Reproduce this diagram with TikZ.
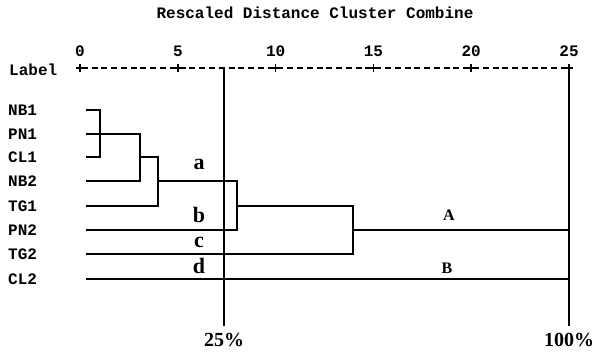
\documentclass[tikz,border=0pt]{standalone}
\usepackage{fontspec}
\setmainfont{Liberation Serif}
\setmonofont{Liberation Mono}
\usetikzlibrary{positioning}

\begin{document}
\begin{tikzpicture}[x=1pt, y=-1pt,
leaf/.style={anchor=west, inner sep=0pt, font=\ttfamily\bfseries\fontsize{16}{16}\selectfont},
scalenum/.style={inner sep=0pt, font=\ttfamily\bfseries\fontsize{16}{16}\selectfont},
grp/.style={inner sep=0pt, font=\bfseries\fontsize{22}{22}\selectfont},
pct/.style={inner sep=0pt, font=\bfseries\fontsize{20}{20}\selectfont},
clus/.style={inner sep=0pt, font=\bfseries\fontsize{16}{16}\selectfont},
link/.style={line width=1.4pt},
cutline/.style={line width=1.8pt}]

\useasboundingbox (0,0) rectangle (596,356);

\node[scalenum] (title) at (315,13) {Rescaled Distance Cluster Combine};

\node[leaf] (lab) at (9,70) {Label};

\coordinate (ax0) at (80,68);

\coordinate (ax25) at (569,68);

\draw[line width=1.5pt, dash pattern=on 6pt off 3.78pt, dash phase=-1.8pt] (ax0) -- (ax25);

\foreach \i in {0,...,5}{
\pgfmathtruncatemacro\val{5*\i}
\node[scalenum] (t\val) at (80+97.8*\i,51) {\val};
\draw[line width=1.5pt] (80+97.8*\i,64) -- (80+97.8*\i,72);
\draw[line width=1.5pt] (76+97.8*\i,68) -- (84+97.8*\i,68);
}

\foreach \name/\txt/\y [count=\k] in {nb1/NB1/110, pn1/PN1/134, cl1/CL1/157, nb2/NB2/181, tg1/TG1/206, pn2/PN2/230, tg2/TG2/254, cl2/CL2/279}{
\node[leaf] (\name) at (8,\y) {\txt};
\coordinate (l\k) at (86,\y);
}

\coordinate (j1) at (100,134);

\coordinate (j2) at (140,157);

\coordinate (j3) at (158,181);

\coordinate (j4) at (237,206);

\coordinate (j5) at (353,230);

\coordinate (r1) at (568,230);

\coordinate (r2) at (568,279);

\draw[link] (l1) -| (j1) |- (l3);

\draw[link] (l2) -| (j2) |- (l4);

\draw[link] (j2) -| (j3) |- (l5);

\draw[link] (j3) -| (j4) |- (l6);

\draw[link] (j4) -| (j5) |- (l7);

\draw[link] (j5) -- (r1);

\draw[link] (l8) -- (r2);

\coordinate (cut25) at (224,68);

\coordinate (end25) at (224,326);

\coordinate (cut100) at (569,68);

\coordinate (end100) at (569,326);

\draw[cutline] (cut25) -- (end25);

\draw[cutline] (cut100) -- (end100);

\node[pct, below=7pt of end25] (p25) {25\%};

\node[pct, below=7pt of end100] (p100) {100\%};

\node[grp] (ga) at (199,164) {a};

\node[grp] (gb) at (199,215) {b};

\node[grp] (gc) at (199,242) {c};

\node[grp] (gd) at (199,266) {d};

\node[clus] (cA) at (449,215) {A};

\node[clus] (cB) at (447,268) {B};

\end{tikzpicture}
\end{document}
